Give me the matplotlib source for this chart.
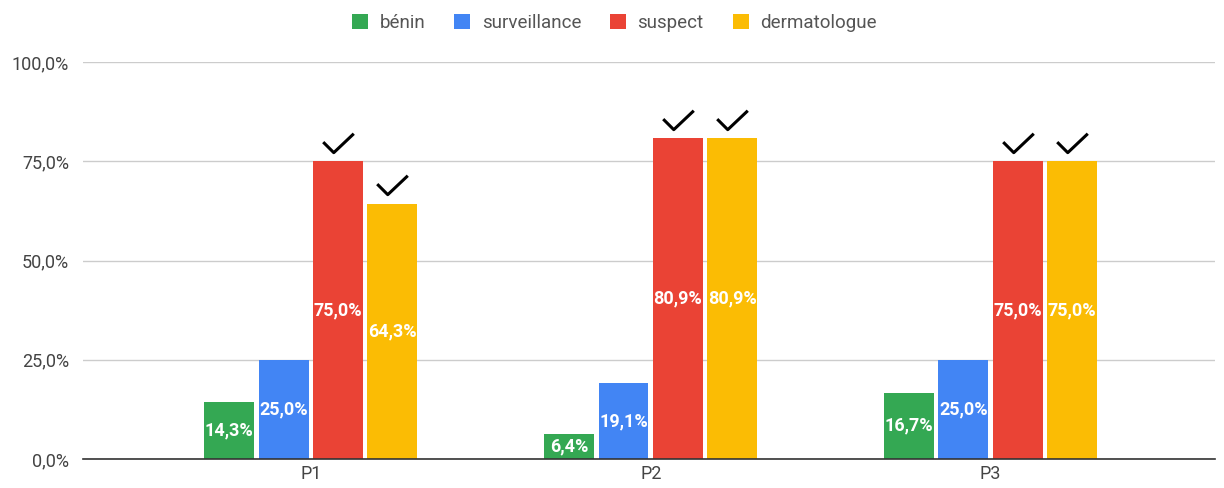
import numpy as np
import matplotlib.pyplot as plt
from matplotlib.path import Path

plt.rcParams['font.family'] = ['Roboto', 'DejaVu Sans']

groups = ['P1', 'P2', 'P3']
series = ['bénin', 'surveillance', 'suspect', 'dermatologue']
values = {
    'bénin': [14.3, 6.4, 16.7],
    'surveillance': [25.0, 19.1, 25.0],
    'suspect': [75.0, 80.9, 75.0],
    'dermatologue': [64.3, 80.9, 75.0],
}
colors = ['#34a853', '#4285f4', '#ea4335', '#fbbc04']
checked = ['suspect', 'dermatologue']

# open check-mark shape used as a marker
check = Path([(-1.0, 0.09), (-0.31, -0.6), (1.0, 0.64)],
             [Path.MOVETO, Path.LINETO, Path.LINETO])

fig = plt.figure(figsize=(12.24, 4.88), dpi=100)
ax = fig.add_axes([83 / 1224, 29 / 488, 1132 / 1224, 397 / 488])

x = np.arange(len(groups))
width = 0.147
step = 0.16

for i, (name, col) in enumerate(zip(series, colors)):
    pos = x + (i - 1.5) * step
    bars = ax.bar(pos, values[name], width, color=col, label=name, zorder=3)
    for b, v in zip(bars, values[name]):
        txt = f'{v:.1f}%'.replace('.', ',')
        ax.text(b.get_x() + b.get_width() / 2, v / 2, txt, ha='center', va='center',
                color='white', fontsize=13, fontweight='bold', zorder=4)
    if name in checked:
        ax.plot(pos, np.array(values[name]) + 4.6, linestyle='none', marker=check,
                markersize=22, markerfacecolor='none', markeredgecolor='black',
                markeredgewidth=2.2, clip_on=False, zorder=5)

ax.set_xlim(-0.67, 2.66)
ax.set_ylim(0, 100)
ax.set_yticks([0, 25, 50, 75, 100])
ax.set_yticklabels(['0,0%', '25,0%', '50,0%', '75,0%', '100,0%'])
ax.set_xticks(x)
ax.set_xticklabels(groups)
ax.tick_params(axis='both', length=0, labelsize=13, labelcolor='#444444')
ax.tick_params(axis='y', pad=10)
ax.tick_params(axis='x', pad=4)
ax.grid(axis='y', color='#cccccc', linewidth=1, zorder=0)
for s in ['top', 'right', 'left']:
    ax.spines[s].set_visible(False)
ax.spines['bottom'].set_color('#333333')
ax.spines['bottom'].set_linewidth(1.2)
ax.spines['bottom'].set_zorder(5)

leg = fig.legend(loc='upper center', bbox_to_anchor=(0.502, 1.005), ncol=4, frameon=False,
                 fontsize=13.5, handlelength=0.85, handleheight=0.85, columnspacing=1.55,
                 handletextpad=0.6)
for t in leg.get_texts():
    t.set_color('#555555')

fig.savefig('out.png', dpi=100)
